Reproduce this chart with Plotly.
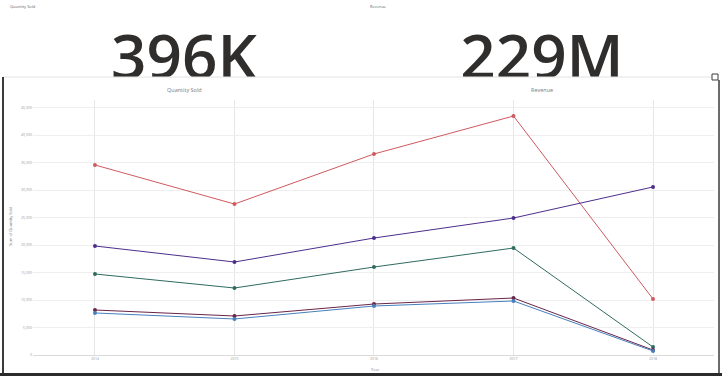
import plotly.graph_objects as go

W, H = 722, 376

# ---- data ----
years = ["2014", "2015", "2016", "2017", "2018"]
series_names = ["Series A", "Series B", "Series C", "Series D", "Series E"]
series_a = [34550, 27450, 36550, 43450, 10180]
series_b = [19820, 16910, 21270, 24910, 30550]
series_c = [14730, 12180, 16000, 19450, 1450]
series_d = [8180, 7090, 9270, 10360, 910]
series_e = [7640, 6550, 8910, 9820, 730]
series_colors = ["#cf5a5f", "#4d2e8c", "#2f6b60", "#6a2548", "#4680bd"]
y_ticks = [0, 5000, 10000, 15000, 20000, 25000, 30000, 35000, 40000, 45000]

kpi_titles = ["Quantity Sold", "Revenue"]
kpi_values = ["396K", "229M"]


def px(x):
    return x / W


def py(y):
    return 1 - y / H


fig = go.Figure()

for name, vals, col in zip(series_names, [series_a, series_b, series_c, series_d, series_e], series_colors):
    fig.add_trace(go.Scatter(
        x=years, y=vals, mode="lines+markers", name=name,
        line=dict(color=col, width=1),
        marker=dict(color=col, size=4, symbol="circle"),
        xaxis="x", yaxis="y", showlegend=False,
    ))

# KPI big numbers, clipped by the panel below
fig.add_trace(go.Scatter(
    x=[184, 542], y=[63.5, 63.5], mode="text", text=kpi_values,
    textposition="middle center",
    textfont=dict(family="Open Sans", size=62, color="#2f2e2d", weight=600),
    cliponaxis=True, xaxis="x2", yaxis="y2", showlegend=False, hoverinfo="skip",
))

fig.update_layout(
    width=W, height=H,
    margin=dict(l=0, r=0, t=0, b=0, autoexpand=False),
    paper_bgcolor="white", plot_bgcolor="white",
    xaxis=dict(
        domain=[px(33), px(714)], type="category", range=[-0.444, 4.437],
        showgrid=True, gridcolor="#e6e6e6", gridwidth=1,
        showline=True, linecolor="#dadada", linewidth=1,
        ticks="", tickfont=dict(size=3.5, color="#999999", family="Open Sans"),
        zeroline=False, fixedrange=True, automargin=False,
    ),
    yaxis=dict(
        domain=[py(355), py(100)], range=[0, 46364],
        tickvals=y_ticks, tickformat=",",
        showgrid=True, gridcolor="#eeeeee", gridwidth=1,
        zeroline=False, showline=False, ticks="",
        tickfont=dict(size=3.5, color="#999999", family="Open Sans"),
        fixedrange=True, automargin=False,
    ),
    xaxis2=dict(domain=[0, 1], range=[0, W], visible=False, anchor="y2", automargin=False,
                fixedrange=True),
    yaxis2=dict(domain=[py(77), 1], range=[77, 0], visible=False, anchor="x2", automargin=False,
                fixedrange=True),
)

shapes = [
    dict(type="line", xref="paper", yref="paper", x0=px(3), x1=px(712), y0=py(77), y1=py(77),
         line=dict(color="#e2e2e2", width=1)),
    dict(type="line", xref="paper", yref="paper", x0=px(3), x1=px(3), y0=py(77), y1=py(373),
         line=dict(color="#3a3a3a", width=2)),
    dict(type="line", xref="paper", yref="paper", x0=px(719), x1=px(719), y0=py(80), y1=py(373),
         line=dict(color="#3a3a3a", width=1.5)),
    dict(type="rect", xref="paper", yref="paper", x0=px(712), x1=px(718), y0=py(80), y1=py(74),
         line=dict(color="#3a3a3a", width=1), fillcolor="white"),
    dict(type="rect", xref="paper", yref="paper", x0=0, x1=1, y0=0, y1=py(373),
         line=dict(width=0), fillcolor="#2b2b2b"),
]
fig.update_layout(shapes=shapes)

small = dict(family="Open Sans", color="#666666")
annotations = [
    dict(x=px(8), y=py(2), text=kpi_titles[0], xanchor="left", yanchor="top",
         font=dict(size=4, **small)),
    dict(x=px(368), y=py(2), text=kpi_titles[1], xanchor="left", yanchor="top",
         font=dict(size=4, **small)),
    dict(x=px(184), y=py(90), text="Quantity Sold", xanchor="center", yanchor="middle",
         font=dict(size=5.5, family="Open Sans", color="#7a7a7a")),
    dict(x=px(542), y=py(90), text="Revenue", xanchor="center", yanchor="middle",
         font=dict(size=5.5, family="Open Sans", color="#7a7a7a")),
    dict(x=px(375), y=py(369), text="Year", xanchor="center", yanchor="middle",
         font=dict(size=4, family="Open Sans", color="#888888")),
    dict(x=px(10), y=py(226), text="Sum of Quantity Sold", textangle=-90,
         xanchor="center", yanchor="middle",
         font=dict(size=4, family="Open Sans", color="#777777")),
]
for a in annotations:
    a.update(xref="paper", yref="paper", showarrow=False)
fig.update_layout(annotations=annotations)

fig.write_html("out.html", config={"displayModeBar": False},
               post_script="document.body.style.margin='0px';")
